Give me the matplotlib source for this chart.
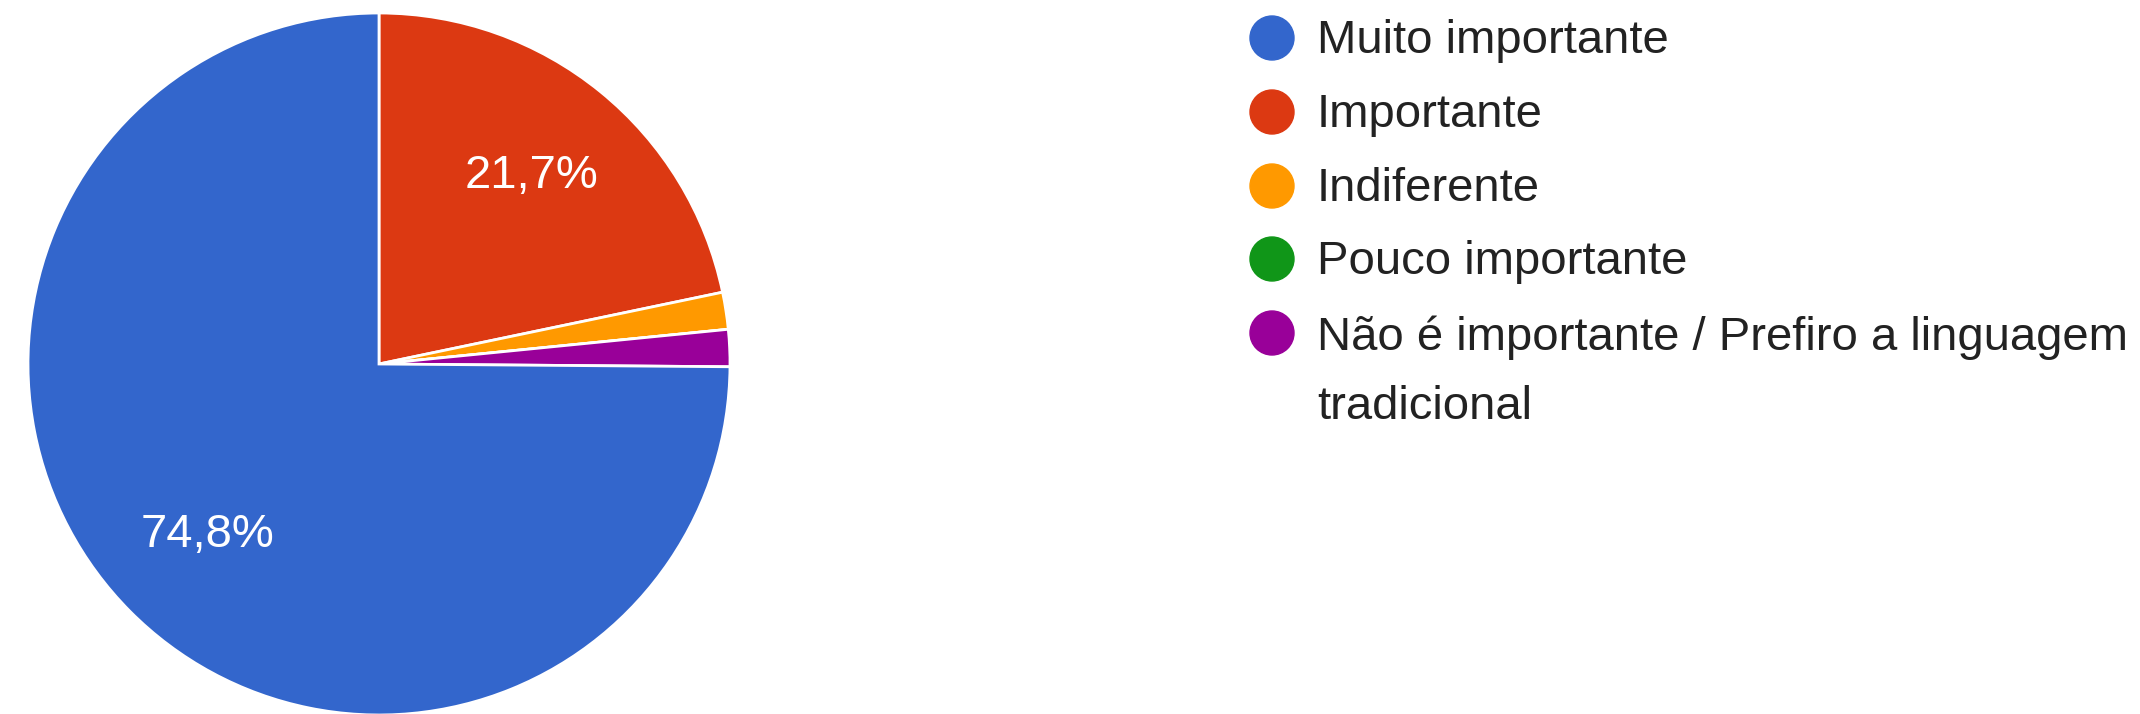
import matplotlib
matplotlib.use('Agg')
import matplotlib.pyplot as plt

plt.rcParams['font.family'] = ['Liberation Sans', 'DejaVu Sans']

categories = ["Muito importante", "Importante", "Indiferente", "Pouco importante",
              "Não é importante / Prefiro a linguagem\ntradicional"]
values = [74.8, 21.7, 1.7, 0.0, 1.7]
colors = ["#3366cc", "#dc3912", "#ff9900", "#109618", "#990099"]
# drawing order, clockwise from 12 o'clock
order = [1, 2, 3, 4, 0]

fig = plt.figure(figsize=(21.4, 7.14), dpi=100)

# pie axes: center (379, 364) px from top-left, radius ~351 px
ax = fig.add_axes([(379 - 351) / 2140, (350 - 351) / 714, 702 / 2140, 702 / 714])
vals = [values[i] for i in order]
cols = [colors[i] for i in order]
labs = [(f"{values[i]:.1f}%".replace('.', ',') if values[i] > 5 else '') for i in order]
wedges, texts = ax.pie(vals, colors=cols, labels=labs, startangle=90, counterclock=False,
                       labeldistance=0.69, radius=1,
                       wedgeprops=dict(edgecolor='white', linewidth=2),
                       textprops=dict(color='white', fontsize=34))
for t in texts:
    t.set_ha('center')
    t.set_va('center')
ax.set_xlim(-1, 1)
ax.set_ylim(-1, 1)
ax.set_aspect('equal')
ax.axis('off')

# legend drawn by hand
row_y = [38, 112, 186, 259, 333]
for i, name in enumerate(categories):
    y = 1 - row_y[i] / 714
    fig.patches.append(matplotlib.patches.Ellipse((1272 / 2140, y), 44 / 2140, 44 / 714,
                                                  transform=fig.transFigure, color=colors[i]))
    ty = y
    if '\n' in name:
        ty = 1 - (row_y[i] + 36) / 714
    fig.text(1317 / 2140, ty - 3 / 714, name, fontsize=34, color='#222222', va='center',
             linespacing=1.75)

fig.savefig('out.png', dpi=100)
